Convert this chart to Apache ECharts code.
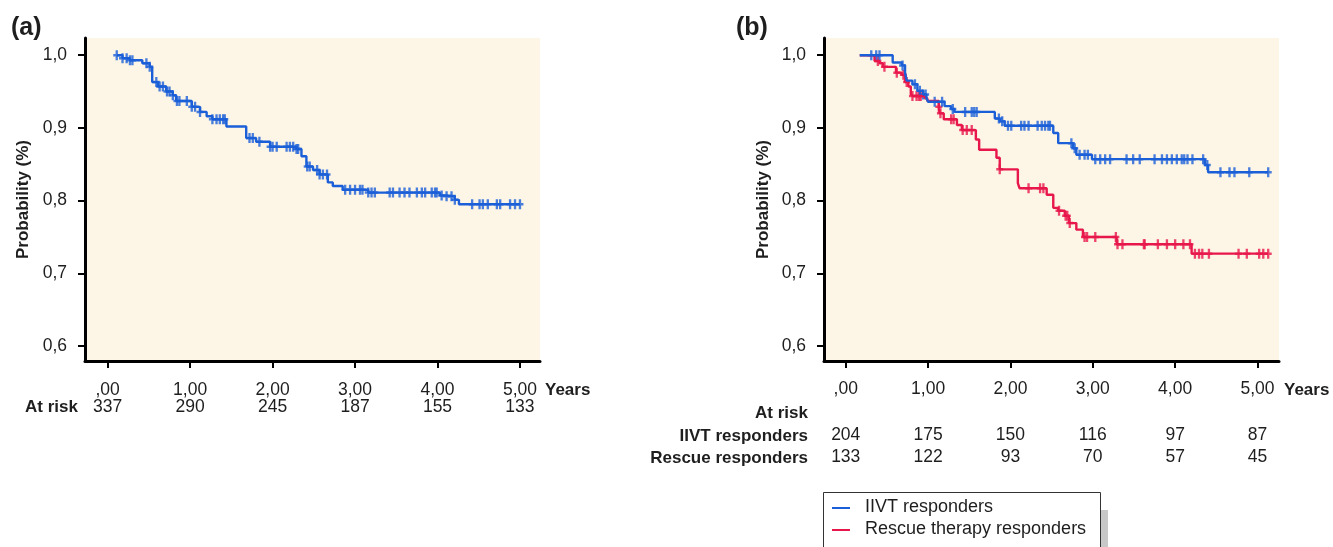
<!DOCTYPE html>
<html>
<head>
<meta charset="utf-8">
<script src="https://cdn.jsdelivr.net/npm/echarts@6/dist/echarts.min.js"></script>
<style>
  html, body { margin: 0; background: #fff; }
  #chart { width: 1333px; height: 547px; }
</style>
</head>
<body>
<div id="chart"></div>
<script>
// tick labels and numbers at risk
const xTicks = [0, 1, 2, 3, 4, 5];
const xTickLabels = [",00", "1,00", "2,00", "3,00", "4,00", "5,00"];
const yTicks = [0.6, 0.7, 0.8, 0.9, 1.0];
const atRiskAll = [337, 290, 245, 187, 155, 133];
const atRiskIIVT = [204, 175, 150, 116, 97, 87];
const atRiskRescue = [133, 122, 93, 70, 57, 45];
const legendNames = ["IIVT responders", "Rescue therapy responders"];

// (a) all patients: event times (years) and survival after each event
const timesA = [0.11, 0.18, 0.27, 0.42, 0.51, 0.54, 0.61, 0.71, 0.79, 0.83, 1.02, 1.12, 1.2, 1.27, 1.44,
  1.68, 1.8, 1.97, 2.29, 2.35, 2.41, 2.49, 2.57, 2.67, 2.73, 2.85, 3.16, 4.03, 4.11, 4.21, 4.26];
const survA = [1.0, 0.996, 0.993, 0.989, 0.984, 0.963, 0.957, 0.95, 0.945, 0.937, 0.929, 0.922, 0.916, 0.912, 0.902,
  0.886, 0.881, 0.874, 0.871, 0.861, 0.847, 0.842, 0.836, 0.825, 0.82, 0.815, 0.811, 0.807, 0.806, 0.801, 0.795];
const censorA = [0.11, 0.18, 0.23, 0.27, 0.3, 0.47, 0.51, 0.59, 0.63, 0.67, 0.72, 0.75, 0.79, 0.84, 0.87, 0.96,
  1.02, 1.06, 1.12, 1.27, 1.32, 1.36, 1.4, 1.42, 1.72, 1.76, 1.84, 1.97, 2.0, 2.05, 2.17, 2.21, 2.25, 2.29, 2.31,
  2.42, 2.45, 2.54, 2.57, 2.61, 2.66, 2.88, 2.94, 3.0, 3.06, 3.09, 3.16, 3.2, 3.24, 3.42, 3.46, 3.54, 3.6, 3.66,
  3.75, 3.81, 3.85, 3.93, 3.97, 3.99, 4.05, 4.11, 4.17, 4.21, 4.42, 4.51, 4.55, 4.61, 4.72, 4.76, 4.88, 4.94, 5.0];

// (b) IIVT responders
const timesIIVT = [0.17, 0.57, 0.68, 0.72, 0.74, 0.81, 0.87, 0.94, 0.98, 1.0, 1.2, 1.28, 1.32, 1.81, 1.87, 1.93,
  2.52, 2.58, 2.76, 2.8, 2.99, 4.36, 4.4];
const survIIVT = [1.0, 0.99, 0.986, 0.976, 0.965, 0.96, 0.951, 0.946, 0.941, 0.936, 0.93, 0.926, 0.922, 0.913, 0.909, 0.903,
  0.893, 0.879, 0.872, 0.863, 0.857, 0.849, 0.839];
const censorIIVT = [0.31, 0.37, 0.41, 0.69, 0.84, 0.9, 0.94, 0.97, 1.08, 1.17, 1.3, 1.45, 1.53, 1.56, 1.59, 1.86,
  1.9, 1.97, 2.01, 2.13, 2.17, 2.22, 2.33, 2.38, 2.42, 2.46, 2.48, 2.74, 2.78, 2.84, 2.9, 2.94, 3.03, 3.09, 3.15,
  3.21, 3.41, 3.49, 3.57, 3.75, 3.84, 3.9, 3.96, 4.02, 4.08, 4.11, 4.15, 4.21, 4.34, 4.39, 4.55, 4.66, 4.72, 4.9, 5.13];

// (b) rescue therapy responders
const timesRescue = [0.17, 0.35, 0.41, 0.45, 0.61, 0.68, 0.72, 0.76, 0.79, 0.81, 0.96, 0.99, 1.13, 1.14, 1.19,
  1.35, 1.41, 1.58, 1.62, 1.83, 1.87, 2.09, 2.11, 2.44, 2.52, 2.58, 2.66, 2.71, 2.8, 2.88, 3.29, 4.2];
const survRescue = [1.0, 0.992, 0.989, 0.984, 0.976, 0.973, 0.963, 0.957, 0.947, 0.944, 0.941, 0.937, 0.929, 0.92, 0.912,
  0.904, 0.897, 0.884, 0.87, 0.859, 0.843, 0.824, 0.817, 0.808, 0.79, 0.786, 0.779, 0.769, 0.76, 0.75, 0.74, 0.727];
const censorRescue = [0.39, 0.47, 0.62, 0.7, 0.74, 0.81, 0.86, 0.89, 0.91, 1.13, 1.15, 1.28, 1.31, 1.42, 1.47, 1.53,
  1.87, 2.22, 2.36, 2.4, 2.59, 2.67, 2.69, 2.72, 2.9, 2.93, 3.03, 3.28, 3.3, 3.36, 3.62, 3.63, 3.79, 3.9, 4.0, 4.1,
  4.18, 4.24, 4.29, 4.33, 4.41, 4.77, 4.87, 5.02, 5.07, 5.13];

const BLUE = "#1a5fd8";
const RED = "#e8174b";
const TEXT = "#1e1e1e";
const FONT = "Liberation Sans, Arial, sans-serif";
const PLUS = "path://M2,0H4V3H6V5H4V8H2V5H0V3H2Z";

// survival value at time t (last event at or before t)
function survAt(times, surv, t) {
  let s = surv[0];
  for (let i = 0; i < times.length; i++) {
    if (times[i] <= t + 1e-9) s = surv[i];
  }
  return s;
}

function curveData(times, surv, censor) {
  const pts = times.map((t, i) => [t, surv[i]]);
  const last = censor[censor.length - 1];
  if (last > times[times.length - 1]) pts.push([last, surv[surv.length - 1]]);
  return pts;
}

function censorData(times, surv, censor) {
  return censor.map((t) => [t, survAt(times, surv, t)]);
}

function stepLine(name, idx, color, times, surv, censor) {
  return {
    name: name,
    type: "line",
    step: "end",
    xAxisIndex: idx,
    yAxisIndex: idx,
    showSymbol: false,
    itemStyle: { color: color },
    lineStyle: { color: color, width: 2.4 },
    data: curveData(times, surv, censor),
  };
}

function censorMarks(name, idx, color, times, surv, censor) {
  return {
    name: name,
    type: "scatter",
    xAxisIndex: idx,
    yAxisIndex: idx,
    symbol: PLUS,
    symbolSize: [7, 10],
    itemStyle: { color: color },
    data: censorData(times, surv, censor),
  };
}

function xAxisFor(idx, min, max, lines, lineHeight, margin) {
  return {
    type: "value",
    gridIndex: idx,
    min: min,
    max: max,
    axisLine: { show: true, onZero: false, lineStyle: { color: "#000", width: 3 } },
    axisTick: { show: true, customValues: xTicks, length: 7, lineStyle: { color: "#000", width: 2 } },
    axisLabel: {
      customValues: xTicks,
      color: TEXT,
      fontSize: 17.5,
      fontFamily: FONT,
      lineHeight: lineHeight,
      margin: margin,
      formatter: function (value) {
        const i = Math.round(value);
        return lines.map((row) => row[i]).join("\n");
      },
    },
    splitLine: { show: false },
  };
}

function yAxisFor(idx, nameGap) {
  return {
    type: "value",
    gridIndex: idx,
    min: 0.5793,
    max: 1.0237,
    name: "Probability (%)",
    nameLocation: "middle",
    nameGap: nameGap,
    nameTextStyle: { color: TEXT, fontSize: 17, fontWeight: "bold", fontFamily: FONT },
    axisLine: { show: true, onZero: false, lineStyle: { color: "#000", width: 3 } },
    axisTick: { show: true, customValues: yTicks, length: 7, lineStyle: { color: "#000", width: 2 } },
    axisLabel: {
      customValues: yTicks,
      color: TEXT,
      fontSize: 17.5,
      fontFamily: FONT,
      margin: 18,
      formatter: (v) => v.toFixed(1).replace(".", ","),
    },
    splitLine: { show: false },
  };
}

function textEl(text, x, y, align, size, weight) {
  return {
    type: "text",
    x: x,
    y: y,
    style: {
      text: text,
      fill: TEXT,
      font: (weight || "bold") + " " + (size || 17) + "px " + FONT,
      align: align || "left",
      verticalAlign: "middle",
    },
  };
}

// legend box drawn by hand (box runs off the bottom of the figure)
function legendBox() {
  const colors = [BLUE, RED];
  const els = [
    { type: "rect", shape: { x: 830, y: 510, width: 278, height: 60 }, style: { fill: "#c8c8c8" } },
    { type: "rect", shape: { x: 823.5, y: 492.5, width: 277, height: 70 }, style: { fill: "#fff", stroke: "#333", lineWidth: 1 } },
  ];
  legendNames.forEach((name, i) => {
    const y = 508 + i * 22;
    els.push({ type: "line", shape: { x1: 832, y1: y, x2: 850, y2: y }, style: { stroke: colors[i], lineWidth: 2 } });
    els.push(textEl(name, 865, y - 1, "left", 18, "normal"));
  });
  return els;
}

const myChart = echarts.init(document.getElementById("chart"));

const blank = xTicks.map(() => "");

const option = {
  backgroundColor: "#fff",
  animation: false,
  grid: [
    { left: 85, top: 38, width: 455, height: 323, show: true, backgroundColor: "#fdf5e6", borderWidth: 0 },
    { left: 824, top: 38, width: 455, height: 323, show: true, backgroundColor: "#fdf5e6", borderWidth: 0 },
  ],
  xAxis: [
    xAxisFor(0, -0.275, 5.243, [xTickLabels, atRiskAll], 17.5, 20),
    xAxisFor(1, -0.264, 5.261, [xTickLabels, blank, atRiskIIVT, atRiskRescue], 22.7, 17),
  ],
  yAxis: [yAxisFor(0, 53), yAxisFor(1, 52)],
  graphic: [
    textEl("(a)", 11, 28, "left", 25),
    textEl("(b)", 736, 28, "left", 25),
    textEl("Years", 545, 390),
    textEl("Years", 1284, 390),
    textEl("At risk", 25, 407.5),
    textEl("At risk", 808, 413.5, "right"),
    textEl("IIVT responders", 808, 436.5, "right"),
    textEl("Rescue responders", 808, 458.5, "right"),
  ].concat(legendBox()),
  series: [
    stepLine("All patients", 0, BLUE, timesA, survA, censorA),
    censorMarks("All patients", 0, BLUE, timesA, survA, censorA),
    stepLine("Rescue therapy responders", 1, RED, timesRescue, survRescue, censorRescue),
    censorMarks("Rescue therapy responders", 1, RED, timesRescue, survRescue, censorRescue),
    stepLine("IIVT responders", 1, BLUE, timesIIVT, survIIVT, censorIIVT),
    censorMarks("IIVT responders", 1, BLUE, timesIIVT, survIIVT, censorIIVT),
  ],
};

option && myChart.setOption(option);
</script>
</body>
</html>
